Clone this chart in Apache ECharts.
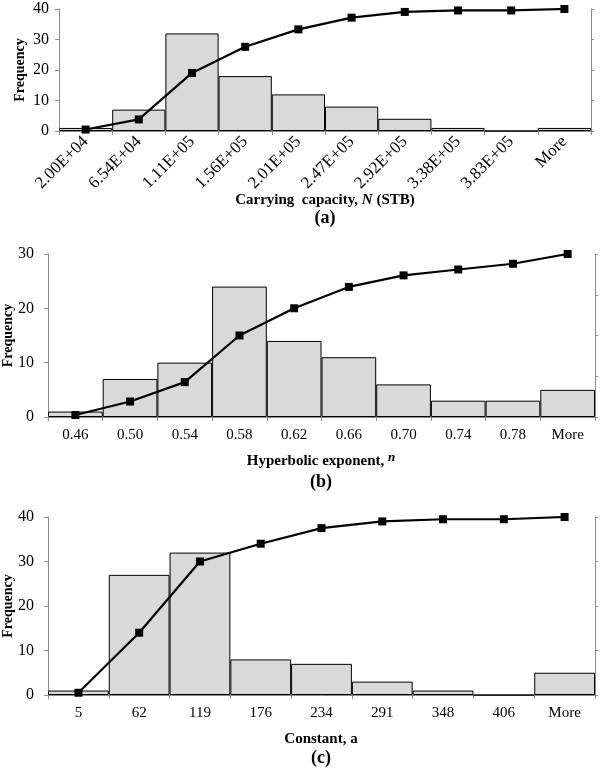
<!DOCTYPE html>
<html>
<head>
<meta charset="utf-8">
<script src="https://cdn.jsdelivr.net/npm/echarts@6/dist/echarts.min.js"></script>
<style>
html,body{margin:0;padding:0;background:#fff;}
#chart{width:602px;height:769px;}
</style>
</head>
<body>
<div id="chart"></div>
<script>
// Panel (a): Carrying capacity
const catsA = ['2.00E+04','6.54E+04','1.11E+05','1.56E+05','2.01E+05','2.47E+05','2.92E+05','3.38E+05','3.83E+05','More'];
const freqA = [1, 7, 32, 18, 12, 8, 4, 1, 0, 1];
const cumA = [1.2, 9.5, 47.6, 69.0, 83.3, 92.9, 97.6, 98.8, 98.8, 100];
// Panel (b): Hyperbolic exponent
const catsB = ['0.46','0.50','0.54','0.58','0.62','0.66','0.70','0.74','0.78','More'];
const freqB = [1, 7, 10, 24, 14, 11, 6, 3, 3, 5];
const cumB = [1.2, 9.5, 21.4, 50.0, 66.7, 79.8, 86.9, 90.5, 94.0, 100];
// Panel (c): Constant a
const catsC = ['5','62','119','176','234','291','348','406','More'];
const freqC = [1, 27, 32, 8, 7, 3, 1, 0, 5];
const cumC = [1.25, 35, 75, 85, 93.75, 97.5, 98.75, 98.75, 100];
// Axis ranges
const leftMax = [40, 30, 40];
const leftInterval = 10;
const rightMax = 100;
const rightInterval = 25;

const SERIF = '"Liberation Serif", "Times New Roman", serif';
const AXC = '#8c8c8c';

const grids = [
  {left: 59, top: 9, width: 532, height: 122, outerBoundsMode: 'none', containLabel: false},
  {left: 48, top: 254, width: 547, height: 163, outerBoundsMode: 'none', containLabel: false},
  {left: 48, top: 517, width: 547, height: 178, outerBoundsMode: 'none', containLabel: false}
];
const cats = [catsA, catsB, catsC];
const freqs = [freqA, freqB, freqC];
const cums = [cumA, cumB, cumC];

const xAxes = [], yAxes = [], series = [];
for (let i = 0; i < 3; i++) {
  xAxes.push({
    type: 'category', gridIndex: i, data: cats[i], boundaryGap: true,
    axisLine: {show: true, lineStyle: {color: AXC, width: 1}},
    axisTick: {show: true, length: 4, lineStyle: {color: AXC}},
    axisLabel: i === 0
      ? {rotate: 45, interval: 0, margin: 8, fontFamily: SERIF, fontSize: 17, color: '#000'}
      : {interval: 0, margin: 11, fontFamily: SERIF, fontSize: 15, color: '#000'},
    splitLine: {show: false}
  });
  yAxes.push({
    type: 'value', gridIndex: i, min: 0, max: leftMax[i], interval: leftInterval, position: 'left',
    name: 'Frequency', nameLocation: 'middle', nameRotate: 90, nameGap: i === 0 ? 32 : 33,
    nameMoveOverlap: false,
    nameTextStyle: {fontFamily: SERIF, fontSize: 14, fontWeight: 'bold', color: '#000'},
    axisLine: {show: true, lineStyle: {color: AXC, width: 1}},
    axisTick: {show: true, length: 4, lineStyle: {color: AXC}},
    axisLabel: {margin: i === 0 ? 10 : 14, fontFamily: SERIF, fontSize: 16, color: '#000'},
    splitLine: {show: false}
  });
  yAxes.push({
    type: 'value', gridIndex: i, min: 0, max: rightMax, interval: rightInterval, position: 'right',
    axisLine: {show: true, lineStyle: {color: AXC, width: 1}},
    axisTick: {show: true, length: 3, lineStyle: {color: AXC}},
    axisLabel: {show: false},
    splitLine: {show: false}
  });
  series.push({
    type: 'bar', xAxisIndex: i, yAxisIndex: 2 * i, data: freqs[i],
    barCategoryGap: '0%',
    itemStyle: {color: '#d9d9d9', borderColor: '#000', borderWidth: 1},
    silent: true, z: 2
  });
  series.push({
    type: 'line', xAxisIndex: i, yAxisIndex: 2 * i + 1, data: cums[i],
    symbol: 'rect', symbolSize: 8,
    lineStyle: {color: '#000', width: 2.2},
    itemStyle: {color: '#000'},
    silent: true, z: 3
  });
}

const boldFont = 'bold 15px ' + SERIF;
const tagFont = 'bold 18px ' + SERIF;
const graphic = [
  {type: 'text', x: 325, y: 200, style: {
    text: '{b|Carrying  capacity, }{i|N}{b| (STB)}',
    textAlign: 'center', textVerticalAlign: 'middle',
    rich: {b: {font: boldFont, fill: '#000'}, i: {font: 'bold italic 15px ' + SERIF, fill: '#000'}}
  }},
  {type: 'text', x: 325, y: 218, style: {text: '(a)', font: tagFont, fill: '#000', textAlign: 'center', textVerticalAlign: 'middle'}},
  {type: 'text', x: 321, y: 461, style: {
    text: '{b|Hyperbolic exponent, }{i|n}',
    textAlign: 'center', textVerticalAlign: 'middle',
    rich: {b: {font: boldFont, fill: '#000'}, i: {font: 'bold italic 13px ' + SERIF, fill: '#000', padding: [0, 0, 6, 0]}}
  }},
  {type: 'text', x: 321, y: 482, style: {text: '(b)', font: tagFont, fill: '#000', textAlign: 'center', textVerticalAlign: 'middle'}},
  {type: 'text', x: 321, y: 739, style: {text: 'Constant, a', font: boldFont, fill: '#000', textAlign: 'center', textVerticalAlign: 'middle'}},
  {type: 'text', x: 321, y: 758, style: {text: '(c)', font: tagFont, fill: '#000', textAlign: 'center', textVerticalAlign: 'middle'}}
];

const chart = echarts.init(document.getElementById('chart'), null, {renderer: 'canvas'});
chart.setOption({
  animation: false,
  backgroundColor: '#fff',
  grid: grids,
  xAxis: xAxes,
  yAxis: yAxes,
  series: series,
  graphic: graphic
});
</script>
</body>
</html>
